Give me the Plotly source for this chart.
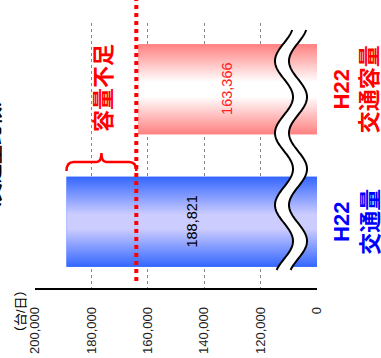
import numpy as np
import plotly.graph_objects as go

# ---- data ----
categories = ["H22<br>交通量", "H22<br>交通容量"]
values = [188821, 163366]
value_labels = ["188,821", "163,366"]
cat_colors = ["#0000FF", "#FF0000"]
value_colors = ["#000000", "#FF2020"]
edge_colors = ["#3366FF", "#FF8080"]
center_colors = ["#CCCCFF", "#FFFFFF"]
tick_vals = [100000, 120000, 140000, 160000, 180000, 200000]
tick_text = ["0", "120,000", "140,000", "160,000", "180,000", "200,000"]
axis_break = 100000   # display position where the broken axis shows "0"
axis_max = 200000
capacity = values[1]
traffic = values[0]

# ---- layout geometry ----
FW, FH = 381, 358
L, T, W, H = 35, 23, 282, 265
BAR_W = 0.68
FONT = "Liberation Sans, Arial, Noto Sans CJK JP, sans-serif"


def xp(px):
    return (px - L) / W


def yp(py):
    return (T + H - py) / H


def xpx(v):
    return L + (axis_max - v) / (axis_max - axis_break) * W


pos = list(range(len(categories)))

fig = go.Figure()

for i in pos:
    fig.add_trace(go.Bar(
        x=[values[i]], y=[pos[i]], orientation="h", width=BAR_W,
        marker=dict(color=edge_colors[i], line=dict(width=0)),
        showlegend=False, hoverinfo="skip"))
    # gradient overlay following the bar extent
    y0, y1 = pos[i] - BAR_W / 2, pos[i] + BAR_W / 2
    fig.add_trace(go.Scatter(
        x=[0, values[i], values[i], 0, 0], y=[y0, y0, y1, y1, y0],
        mode="lines", fill="toself", line=dict(width=0),
        fillgradient=dict(type="vertical", colorscale=[
            [0, edge_colors[i]], [0.42, center_colors[i]],
            [0.58, center_colors[i]], [1, edge_colors[i]]]),
        showlegend=False, hoverinfo="skip"))

shapes = []

# wavy axis-break band
ys = np.linspace(30, 270, 200)
xa = 284 + 9 * np.cos(2 * np.pi * (ys - 97) / 72)
xb = xa + 14
band = "M " + " L ".join(f"{xp(x):.5f},{yp(y):.5f}" for x, y in zip(xa, ys))
band += " L " + " L ".join(f"{xp(x):.5f},{yp(y):.5f}" for x, y in zip(xb[::-1], ys[::-1])) + " Z"
shapes.append(dict(type="path", xref="paper", yref="paper", path=band,
                   fillcolor="white", line=dict(width=0)))
for xs in (xa, xb):
    p = "M " + " L ".join(f"{xp(x):.5f},{yp(y):.5f}" for x, y in zip(xs, ys))
    shapes.append(dict(type="path", xref="paper", yref="paper", path=p,
                       line=dict(color="black", width=2)))

# red dotted capacity line
cx = xp(xpx(capacity) - 2)
shapes.append(dict(type="line", xref="paper", yref="paper", x0=cx, x1=cx,
                   y0=yp(281), y1=yp(0), line=dict(color="#FF0000", width=4, dash="4px,4px")))

# brace between traffic and capacity
bx0, bx1 = xpx(traffic), xpx(capacity) - 2
mid = (bx0 + bx1) / 2
yb, ye, yt = 162, 171, 153
pts = [("M", bx0, ye), ("Q", bx0, yb), ("", bx0 + 7, yb), ("L", mid - 5, yb),
       ("Q", mid, yb), ("", mid, yt), ("Q", mid, yb), ("", mid + 5, yb),
       ("L", bx1 - 7, yb), ("Q", bx1, yb), ("", bx1, ye)]
brace = " ".join(f"{c} {xp(x):.5f},{yp(y):.5f}" if c else f"{xp(x):.5f},{yp(y):.5f}" for c, x, y in pts)
shapes.append(dict(type="path", xref="paper", yref="paper", path=brace,
                   line=dict(color="#FF0000", width=2.5)))

annotations = []
for i in pos:
    annotations.append(dict(
        xref="x", yref="y", x=(values[i] + axis_break) / 2, y=pos[i],
        text=value_labels[i], textangle=-90, showarrow=False,
        xanchor="center", yanchor="middle",
        font=dict(family=FONT, size=14.5, color=value_colors[i])))
    annotations.append(dict(
        xref="paper", yref="y", x=xp(356), y=pos[i],
        text="<b>" + categories[i] + "</b>", textangle=-90, showarrow=False,
        xanchor="center", yanchor="middle", align="center",
        font=dict(family=FONT, size=22, color=cat_colors[i])))

annotations.append(dict(xref="paper", yref="paper", x=xp(104), y=yp(88),
                        text="<b>容量不足</b>", textangle=-90, showarrow=False,
                        xanchor="center", yanchor="middle",
                        font=dict(family=FONT, size=22, color="#FF0000")))
annotations.append(dict(xref="paper", yref="paper", x=xp(20), y=yp(311),
                        text="（台/日）", textangle=-90, showarrow=False,
                        xanchor="center", yanchor="middle",
                        font=dict(family=FONT, size=13, color="#000000")))
annotations.append(dict(xref="paper", yref="paper", x=xp(-7), y=yp(155),
                        text="<b>（交通量比較）</b>", textangle=-90, showarrow=False,
                        xanchor="center", yanchor="middle",
                        font=dict(family=FONT, size=19, color="#000000")))

fig.update_layout(
    width=FW, height=FH,
    margin=dict(l=L, r=FW - L - W, t=T, b=FH - T - H, autoexpand=False),
    paper_bgcolor="white", plot_bgcolor="white",
    barmode="overlay", showlegend=False,
    shapes=shapes, annotations=annotations,
    xaxis=dict(range=[axis_max, axis_break], tickvals=tick_vals, ticktext=tick_text,
               tickangle=-90, showgrid=True, gridcolor="#888888", griddash="dot",
               gridwidth=1, zeroline=False, showline=True, linecolor="black",
               linewidth=1.5, ticks="", ticklabelstandoff=12, automargin=False,
               tickfont=dict(family=FONT, size=13, color="#222222")),
    yaxis=dict(range=[-0.5, 1.5], showticklabels=False, showgrid=False,
               zeroline=False, showline=False, automargin=False),
)

fig.write_html("out.html")
